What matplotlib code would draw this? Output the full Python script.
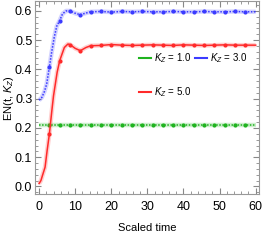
import numpy as np
import matplotlib
matplotlib.use("Agg")
import matplotlib.pyplot as plt
from matplotlib.ticker import MultipleLocator

plt.rcParams['font.family'] = ['Liberation Sans', 'DejaVu Sans']
plt.rcParams['mathtext.fontset'] = 'custom'
plt.rcParams['mathtext.it'] = 'Liberation Sans:italic'
plt.rcParams['mathtext.rm'] = 'Liberation Sans'

# marker times (sampled points)
t_marks = [2.86, 5.71, 8.57, 11.43, 14.29, 17.14, 20.0, 22.86, 25.71, 28.57,
           31.43, 34.29, 37.14, 40.0, 42.86, 45.71, 48.57, 51.43, 54.29, 57.14]

# K_Z = 1.0 (green)
g_line_t = [0, 60]
g_line_y = [0.21, 0.21]
g_marks = [0.21] * 20

# K_Z = 3.0 (blue)
b_line_t = [0, 0.75, 1.5, 2.1, 2.86, 3.5, 4.2, 4.9, 5.71, 6.5, 7.5, 8.57, 10.0,
            11.43, 12.8, 14.29, 17.14, 20.0, 22.86, 25.71, 28.57, 31.43, 34.29,
            37.14, 40.0, 42.86, 45.71, 48.57, 51.43, 54.29, 57.14, 60.0]
b_line_y = [0.295, 0.304, 0.325, 0.35, 0.409, 0.46, 0.51, 0.548, 0.567, 0.59,
            0.6, 0.6, 0.592, 0.587, 0.592, 0.597, 0.598, 0.596, 0.598, 0.597,
            0.598, 0.597, 0.597, 0.598, 0.597, 0.597, 0.598, 0.597, 0.597,
            0.598, 0.597, 0.597]
b_marks = [0.409, 0.567, 0.6, 0.587, 0.597, 0.598, 0.596, 0.598, 0.597, 0.598,
           0.597, 0.597, 0.598, 0.597, 0.597, 0.598, 0.597, 0.597, 0.598, 0.597]

# K_Z = 5.0 (red)
r_line_t = [0, 0.5, 1.0, 1.66, 2.2, 2.86, 3.5, 4.0, 5.0, 5.71, 7.0, 8.0, 8.57,
            10.0, 11.43, 13.0, 14.29, 17.14, 20.0, 22.86, 25.71, 28.57, 31.43,
            34.29, 37.14, 40.0, 42.86, 45.71, 48.57, 51.43, 54.29, 57.14, 60.0]
r_line_y = [0.01, 0.02, 0.04, 0.066, 0.12, 0.18, 0.255, 0.31, 0.39, 0.43,
            0.475, 0.487, 0.485, 0.472, 0.464, 0.475, 0.481, 0.482, 0.485,
            0.483, 0.482, 0.483, 0.484, 0.483, 0.482, 0.484, 0.483, 0.482,
            0.483, 0.484, 0.483, 0.483, 0.483]
r_marks = [0.18, 0.43, 0.485, 0.464, 0.481, 0.482, 0.485, 0.483, 0.482, 0.483,
           0.484, 0.483, 0.482, 0.484, 0.483, 0.482, 0.483, 0.484, 0.483, 0.483]

green = '#1fb31f'
blue = '#3b3bff'
red = '#ff2a2a'


def curve(ax, lt, ly, ym, colour, style):
    ax.plot(lt, ly, c=colour, lw=3.2, alpha=0.22, solid_capstyle='butt')
    line, = ax.plot(lt, ly, c=colour, lw=1.1, linestyle=style)
    ax.plot(t_marks, ym, 'o', c=colour, ms=3.0, mew=0)
    return line


fig = plt.figure(figsize=(2.62, 2.4), dpi=100)
ax = fig.add_axes([0.134, 0.19, 0.853, 0.806])

l1 = curve(ax, g_line_t, g_line_y, g_marks, green, (0, (1, 1)))
l2 = curve(ax, b_line_t, b_line_y, b_marks, blue, (0, (1, 1)))
l3 = curve(ax, r_line_t, r_line_y, r_marks, red, '-')

ax.set_xlim(-1.1, 60.8)
ax.set_ylim(-0.027, 0.634)
ax.xaxis.set_major_locator(MultipleLocator(10))
ax.xaxis.set_minor_locator(MultipleLocator(2))
ax.yaxis.set_major_locator(MultipleLocator(0.1))
ax.yaxis.set_minor_locator(MultipleLocator(0.02))
ax.yaxis.set_major_formatter(plt.FormatStrFormatter('%.1f'))
ax.tick_params(which='both', direction='in', top=True, right=True,
               labelsize=9, color='#888888')
ax.tick_params(axis='y', pad=2)
ax.tick_params(axis='x', pad=5)
ax.tick_params(which='major', length=4)
ax.tick_params(which='minor', length=2)
for s in ax.spines.values():
    s.set_color('#999999')

ax.set_xlabel('Scaled time', fontsize=8, labelpad=7)
ax.set_ylabel(r'EN(t, $K_Z$)', fontsize=8)
ax.yaxis.set_label_coords(-0.085, 0.5)

# column-major fill: col 1 = (1.0, 5.0), col 2 = (3.0)
leg = ax.legend([l1, l3, l2], [r'$K_Z$ = 1.0', r'$K_Z$ = 5.0', r'$K_Z$ = 3.0'],
                ncol=2, loc='upper left', bbox_to_anchor=(0.465, 0.74),
                frameon=False, fontsize=7, handlelength=1.2, handletextpad=0.35,
                columnspacing=0.4, labelspacing=2.1, borderaxespad=0,
                borderpad=0)
for h in leg.get_lines():
    h.set_linestyle('-')
    h.set_linewidth(1.5)

fig.savefig('out.png', dpi=100)
